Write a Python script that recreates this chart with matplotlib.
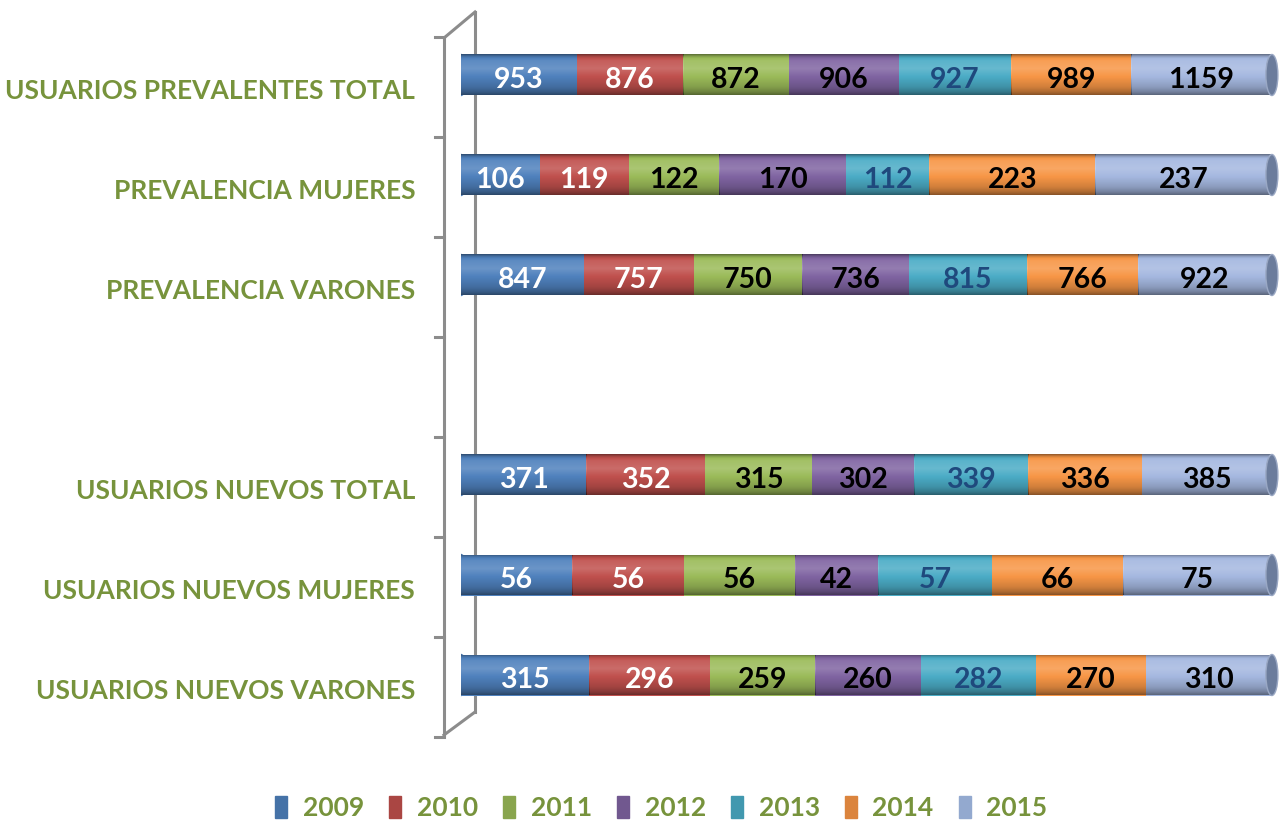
import numpy as np
import matplotlib.pyplot as plt
from matplotlib.patches import Ellipse, Patch

# Datos (orden de abajo hacia arriba)
categorias = ['USUARIOS NUEVOS VARONES', 'USUARIOS NUEVOS MUJERES', 'USUARIOS NUEVOS TOTAL', '',
              'PREVALENCIA VARONES', 'PREVALENCIA MUJERES', 'USUARIOS PREVALENTES TOTAL']
anios = ['2009', '2010', '2011', '2012', '2013', '2014', '2015']
v2009 = [315, 56, 371, 0, 847, 106, 953]
v2010 = [296, 56, 352, 0, 757, 119, 876]
v2011 = [259, 56, 315, 0, 750, 122, 872]
v2012 = [260, 42, 302, 0, 736, 170, 906]
v2013 = [282, 57, 339, 0, 815, 112, 927]
v2014 = [270, 66, 336, 0, 766, 223, 989]
v2015 = [310, 75, 385, 0, 922, 237, 1159]
series = [v2009, v2010, v2011, v2012, v2013, v2014, v2015]

colores = ['#4F81BD', '#C0504D', '#9BBB59', '#8064A2', '#4BACC6', '#F79646', '#A5B8E0']
colores_leyenda = ['#4572A7', '#AA4643', '#89A54E', '#71588F', '#4198AF', '#DB843D', '#93A9CF']
color_texto = ['white', 'white', 'black', 'black', '#1F497D', 'black', 'black']
verde = '#77933C'
gris = '#8C8C8C'

plt.rcParams['font.family'] = ['Lato', 'DejaVu Sans']
plt.rcParams['font.weight'] = 'bold'

W, H = 1284, 822
fig = plt.figure(figsize=(W / 100, H / 100), dpi=100)
ax = fig.add_axes([461 / W, 97 / H, 819 / W, 700 / H])
ax.patch.set_alpha(0)

# degradado para efecto cilindro
t = np.linspace(0, 1, 64)
s = np.interp(t, [0, 0.06, 0.15, 0.35, 0.55, 0.8, 0.93, 1.0],
              [-0.4, -0.1, 0.08, 0.16, 0.0, -0.15, -0.3, -0.45])
grad = np.zeros((64, 1, 4))
grad[:, 0, :3] = (s > 0)[:, None] * 1.0
grad[:, 0, 3] = np.abs(s)

alto = 0.41
datos = np.array(series, dtype=float)
totales = datos.sum(axis=0)
y = np.arange(len(categorias))


def sombrear(patch, x0, x1, yc):
    im = ax.imshow(grad, extent=(x0, x1, yc - alto / 2, yc + alto / 2),
                   aspect='auto', interpolation='bilinear', zorder=patch.get_zorder() + 0.1)
    im.set_clip_path(patch)


izq = np.zeros(len(categorias))
for i, serie in enumerate(datos):
    frac = np.where(totales > 0, serie / np.where(totales > 0, totales, 1), 0)
    barras = ax.barh(y, frac, left=izq, height=alto, color=colores[i], zorder=2 + i * 0.01)
    for j, b in enumerate(barras):
        if totales[j] == 0:
            continue
        sombrear(b, izq[j], izq[j] + frac[j], y[j])
        ax.text(izq[j] + frac[j] / 2, y[j] - 0.05, str(int(serie[j])), ha='center', va='center',
                color=color_texto[i], fontsize=20.5, fontweight='bold', zorder=5)
    izq = izq + frac

# tapas de los cilindros
for j in range(len(categorias)):
    if totales[j] == 0:
        continue
    e = Ellipse((0, y[j]), 0.0148, alto, color=colores[0], zorder=1.5)
    ax.add_patch(e)
    sombrear(e, -0.0074, 0.0074, y[j])
    ax.add_patch(Ellipse((1, y[j]), 0.0148, alto, fc='#6B7C9C', ec='#9AA8C4', lw=1, zorder=4))

ax.set_xlim(0, 1.01)
ax.set_ylim(-0.5, 6.5)

# ejes en perspectiva
xf, xb, xt = -0.021, 0.0173, -0.032
ax.plot([xb, xb], [-0.37, 6.63], color=gris, lw=2.2, zorder=1, clip_on=False)
ax.plot([xf, xf], [-0.60, 6.37], color=gris, lw=2.2, zorder=1, clip_on=False)
ax.plot([xf, xb], [6.37, 6.63], color=gris, lw=2.2, zorder=1, clip_on=False)
ax.plot([xf, xb], [-0.60, -0.37], color=gris, lw=2.2, zorder=1, clip_on=False)
for k in range(len(categorias) + 1):
    yt = k - 0.5 - 0.12
    ax.plot([xt, xf], [yt, yt], color=gris, lw=2.2, zorder=1, clip_on=False)

ax.set_yticks(y - 0.14)
ax.set_yticklabels(categorias, color=verde, fontsize=19, fontweight='bold')
ax.tick_params(axis='y', length=0, pad=33)
ax.set_xticks([])
for sp in ax.spines.values():
    sp.set_visible(False)

handles = [Patch(color=c) for c in colores_leyenda]
leg = fig.legend(handles, anios, loc='center', bbox_to_anchor=(0.515, 1 - 808 / H),
                 ncol=7, frameon=False, fontsize=19, handlelength=0.45, handleheight=0.9,
                 handletextpad=0.6, columnspacing=0.95)
for txt in leg.get_texts():
    txt.set_color(verde)
    txt.set_fontweight('bold')

fig.savefig('out.png', dpi=100)
